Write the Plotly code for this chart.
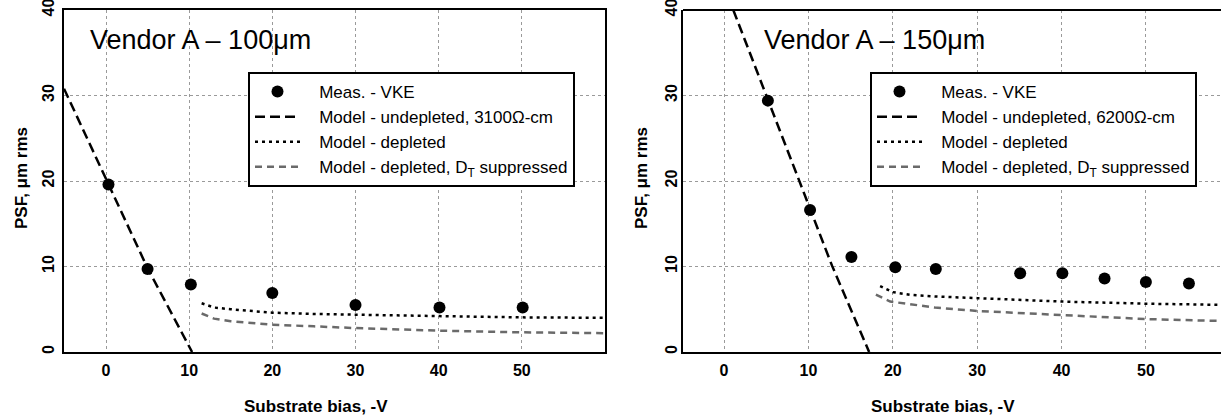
import plotly.graph_objects as go

W, H = 1221, 416

# ---------------- data: left panel (Vendor A - 100um) ----------------
l_meas_x = [0.3, 5.0, 10.2, 20.0, 30.0, 40.1, 50.1]
l_meas_y = [19.6, 9.7, 7.9, 6.9, 5.5, 5.2, 5.2]
l_und_x = [-5.05, 0.25, 5.0, 10.35]
l_und_y = [30.8, 19.7, 9.8, 0.0]
l_dep_x = [11.5, 13, 15, 20, 25, 30, 40, 50, 60]
l_dep_y = [5.7, 5.2, 5.0, 4.6, 4.45, 4.35, 4.2, 4.05, 4.0]
l_dts_x = [11.5, 13, 15, 20, 25, 30, 40, 50, 60]
l_dts_y = [4.5, 3.9, 3.6, 3.2, 3.0, 2.8, 2.5, 2.3, 2.2]

# ---------------- data: right panel (Vendor A - 150um) ----------------
r_meas_x = [5.2, 10.2, 15.1, 20.3, 25.1, 35.1, 40.1, 45.1, 50.0, 55.1]
r_meas_y = [29.4, 16.6, 11.1, 9.9, 9.7, 9.2, 9.2, 8.6, 8.2, 8.0]
r_und_x = [1.1, 5.2, 10.2, 12.8, 17.2]
r_und_y = [40.0, 29.5, 16.8, 10.1, 0.0]
r_dep_x = [18.5, 20, 22, 25, 30, 35, 40, 50, 60]
r_dep_y = [7.7, 7.0, 6.7, 6.5, 6.3, 6.1, 5.9, 5.65, 5.5]
r_dts_x = [18.0, 19.7, 22, 25, 30, 40, 50, 60]
r_dts_y = [6.7, 5.9, 5.6, 5.2, 4.8, 4.3, 3.85, 3.6]

x_ticks = [0, 10, 20, 30, 40, 50]
y_ticks = [0, 10, 20, 30, 40]

PAD = "\u00a0\u00a0\u00a0"
names_left = ["Meas. - VKE", "Model - undepleted, 3100Ω-cm",
              "Model - depleted", "Model - depleted, D<sub>T</sub> suppressed"]
names_right = ["Meas. - VKE", "Model - undepleted, 6200Ω-cm",
               "Model - depleted", "Model - depleted, D<sub>T</sub> suppressed"]
titles = ["Vendor A – 100μm", "Vendor A – 150μm"]
x_title = "Substrate bias, -V"
y_title = "PSF, μm rms"

FONT = "Liberation Sans, Arial, sans-serif"

fig = go.Figure()


def add_panel(xa, ya, leg, names, mx, my, ux, uy, dx, dy, sx, sy):
    fig.add_trace(go.Scatter(x=mx, y=my, mode="markers", name=PAD + names[0],
                             marker=dict(color="black", size=12),
                             xaxis=xa, yaxis=ya, legend=leg, legendgroup=leg + "a"))
    fig.add_trace(go.Scatter(x=ux, y=uy, mode="lines", name=PAD + names[1],
                             line=dict(color="black", width=2.5, dash="10px,5px"),
                             xaxis=xa, yaxis=ya, legend=leg, legendgroup=leg + "b"))
    fig.add_trace(go.Scatter(x=dx, y=dy, mode="lines", name=PAD + names[2],
                             line=dict(color="black", width=2.5, dash="3px,4px"),
                             xaxis=xa, yaxis=ya, legend=leg, legendgroup=leg + "c"))
    fig.add_trace(go.Scatter(x=sx, y=sy, mode="lines", name=PAD + names[3],
                             line=dict(color="#6a6a6a", width=2.5, dash="7px,5px"),
                             xaxis=xa, yaxis=ya, legend=leg, legendgroup=leg + "d"))


add_panel("x", "y", "legend", names_left, l_meas_x, l_meas_y, l_und_x, l_und_y,
          l_dep_x, l_dep_y, l_dts_x, l_dts_y)
add_panel("x2", "y2", "legend2", names_right, r_meas_x, r_meas_y, r_und_x, r_und_y,
          r_dep_x, r_dep_y, r_dts_x, r_dts_y)

axis_common = dict(showgrid=True, gridcolor="#9a9a9a", griddash="dot", gridwidth=1,
                   zeroline=False, ticks="", showline=True, linecolor="black",
                   linewidth=2, ticklabeloverflow="allow",
                   tickfont=dict(family=FONT, size=16, color="black", weight="bold"))

legend_common = dict(bgcolor="white", bordercolor="black", borderwidth=2,
                     font=dict(family=FONT, size=17, color="black"),
                     xanchor="left", yanchor="top", itemwidth=45,
                     tracegroupgap=1, traceorder="normal")

plot_top, plot_bot = 10, 352
ph = plot_bot - plot_top


def py(pix):
    return (plot_bot - pix) / ph


fig.update_layout(
    width=W, height=H,
    margin=dict(l=0, r=0, t=plot_top, b=H - plot_bot, autoexpand=False),
    paper_bgcolor="white", plot_bgcolor="white",
    showlegend=True,
    xaxis=dict(domain=[64 / W, 605 / W], range=[-5.05, 60.0], tickvals=x_ticks,
               mirror=True, anchor="y", ticklabelstandoff=3, **axis_common),
    yaxis=dict(domain=[0, 1], range=[0, 40], tickvals=y_ticks, tickangle=-90,
               mirror=True, anchor="x", ticklabelstandoff=2, **axis_common),
    xaxis2=dict(domain=[683 / W, 1.0], range=[-4.86, 58.9], tickvals=x_ticks,
                mirror=False, anchor="y2", ticklabelstandoff=3, **axis_common),
    yaxis2=dict(domain=[0, 1], range=[0, 40], tickvals=y_ticks, tickangle=-90,
                mirror=False, anchor="x2", ticklabelstandoff=-2, **axis_common),
    legend=dict(x=248 / W, y=py(72), **legend_common),
    legend2=dict(x=870 / W, y=py(72), **legend_common),
)

# top border for right panel (right edge is cut off in the original)
fig.add_shape(type="line", xref="x2 domain", yref="y2 domain", x0=0, x1=1, y0=1, y1=1,
              line=dict(color="black", width=2))

# panel titles inside plots
fig.add_annotation(text=titles[0], xref="paper", yref="paper", x=88 / W, y=py(40),
                   xanchor="left", yanchor="middle", showarrow=False,
                   font=dict(family=FONT, size=27, color="black"))
fig.add_annotation(text=titles[1], xref="paper", yref="paper", x=762 / W, y=py(40),
                   xanchor="left", yanchor="middle", showarrow=False,
                   font=dict(family=FONT, size=27, color="black"))

# axis titles
for xc in (316, 943):
    fig.add_annotation(text=x_title, xref="paper", yref="paper", x=xc / W, y=py(406),
                       xanchor="center", yanchor="middle", showarrow=False,
                       font=dict(family=FONT, size=17, color="black", weight="bold"))
for xc in (21, 641):
    fig.add_annotation(text=y_title, xref="paper", yref="paper", x=xc / W, y=py(178),
                       xanchor="center", yanchor="middle", showarrow=False, textangle=-90,
                       font=dict(family=FONT, size=17, color="black", weight="bold"))

fig.write_html("out.html")
